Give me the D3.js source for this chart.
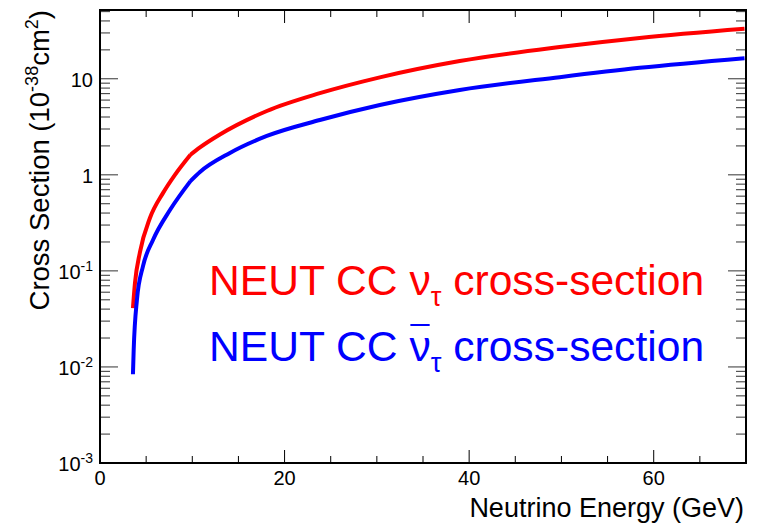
<!DOCTYPE html>
<html>
<head>
<meta charset="utf-8">
<script src="https://cdn.jsdelivr.net/npm/d3@7"></script>
<style>
  html, body { margin: 0; padding: 0; background: #fff; }
  svg { display: block; font-family: "Liberation Sans", Arial, Helvetica, sans-serif; }
</style>
</head>
<body>
<svg id="chart" width="758" height="523"></svg>
<script>
// Tau-neutrino charged-current cross sections (units of 1e-38 cm^2) vs neutrino energy (GeV)
const nuTauEnergy = [3.57, 3.79, 4.33, 5.41, 6.82, 8.12, 9.8, 10.83, 12.99, 18.08, 23.82, 30.32, 38.98, 49.81, 58.47, 69.84];
const nuTauXsec   = [0.041, 0.0747, 0.157, 0.355, 0.645, 1.0, 1.62, 1.93, 2.63, 4.62, 7.08, 10.35, 15.3, 21.4, 26.6, 33.1];

const nuTauBarEnergy = [3.57, 3.65, 4.0, 4.66, 5.74, 7.58, 9.8, 10.83, 14.08, 18.08, 23.82, 30.32, 38.98, 49.81, 58.47, 69.84];
const nuTauBarXsec   = [0.0084, 0.015, 0.0498, 0.112, 0.21, 0.43, 0.86, 1.07, 1.69, 2.54, 3.72, 5.33, 7.64, 10.4, 13.0, 16.4];

// energy where the cross-section model switches regime (slope break)
const kinkEnergy = 9.8;

const xMajorTicks = [0, 20, 40, 60];
const yDecades = [1e-3, 1e-2, 1e-1, 1, 10];
const yDecadeLabels = [["10", "-3"], ["10", "-2"], ["10", "-1"], ["1", ""], ["10", ""]];

const legendLines = [
  { pre: "NEUT CC ", nu: "\u03bd", sub: "\u03c4", post: " cross-section", bar: false, color: "#ff0000" },
  { pre: "NEUT CC ", nu: "\u03bd", sub: "\u03c4", post: " cross-section", bar: true,  color: "#0000ff" }
];

const svg = d3.select("#chart");
const L = 100, R = 746, T = 10, B = 463;

const x = d3.scaleLinear().domain([0, 70]).range([L, R]);
const y = d3.scaleLog().domain([1e-3, 52]).range([B, T]);

// x ticks: majors every 20, minors every 5 (bottom and top)
const xMinor = d3.range(0, 70.01, 5).filter(v => v % 20 !== 0);
const tickG = svg.append("g").attr("stroke", "#000").attr("stroke-width", 1);
xMajorTicks.forEach(v => {
  tickG.append("line").attr("x1", x(v)).attr("x2", x(v)).attr("y1", B).attr("y2", B - 13);
  tickG.append("line").attr("x1", x(v)).attr("x2", x(v)).attr("y1", T).attr("y2", T + 13);
});
xMinor.forEach(v => {
  tickG.append("line").attr("x1", x(v)).attr("x2", x(v)).attr("y1", B).attr("y2", B - 7);
  tickG.append("line").attr("x1", x(v)).attr("x2", x(v)).attr("y1", T).attr("y2", T + 7);
});

// y ticks: decades long, 2..9 short (left and right)
const yTickG = svg.append("g").attr("stroke", "#333").attr("stroke-width", 1);
const yMinor = [];
yDecades.forEach(d => { for (let k = 2; k <= 9; k++) { const v = d * k; if (v <= 52) yMinor.push(v); } });
yDecades.forEach(v => {
  yTickG.append("line").attr("x1", L).attr("x2", L + 18).attr("y1", y(v)).attr("y2", y(v));
  yTickG.append("line").attr("x1", R).attr("x2", R - 18).attr("y1", y(v)).attr("y2", y(v));
});
yMinor.forEach(v => {
  yTickG.append("line").attr("x1", L).attr("x2", L + 10).attr("y1", y(v)).attr("y2", y(v));
  yTickG.append("line").attr("x1", R).attr("x2", R - 10).attr("y1", y(v)).attr("y2", y(v));
});

// curves: smooth on each side of the regime change, joined with a sharp bend
const line = d3.line().x(d => x(d[0])).y(d => y(d[1])).curve(d3.curveMonotoneX);
function drawCurve(energy, xsec, color) {
  const pts = energy.map((e, i) => [e, xsec[i]]);
  const low = pts.filter(p => p[0] <= kinkEnergy);
  const high = pts.filter(p => p[0] >= kinkEnergy);
  svg.append("path").datum([low, high])
    .attr("d", segs => segs.map(s => line(s)).join(""))
    .attr("fill", "none").attr("stroke", color).attr("stroke-width", 4)
    .attr("stroke-linejoin", "round");
}
drawCurve(nuTauEnergy, nuTauXsec, "#ff0000");
drawCurve(nuTauBarEnergy, nuTauBarXsec, "#0000ff");

// frame
svg.append("rect").attr("x", L).attr("y", T).attr("width", R - L).attr("height", B - T)
  .attr("fill", "none").attr("stroke", "#000").attr("stroke-width", 2);

// x tick labels
svg.append("g").selectAll("text").data(xMajorTicks).join("text")
  .attr("x", d => x(d)).attr("y", 485).attr("text-anchor", "middle")
  .attr("font-size", 20).text(d => d);

// y tick labels
yDecades.forEach((v, i) => {
  const [base, exp] = yDecadeLabels[i];
  const t = svg.append("text").attr("x", 93).attr("y", y(v) + 8)
    .attr("text-anchor", "end").attr("font-size", 20);
  t.append("tspan").text(base);
  if (exp) t.append("tspan").attr("dy", -8).attr("font-size", 14).text(exp);
});

// axis titles
svg.append("text").attr("x", 744).attr("y", 517).attr("text-anchor", "end")
  .attr("font-size", 27).text("Neutrino Energy (GeV)");

const yt = svg.append("text").attr("transform", "translate(49,10) rotate(-90)")
  .attr("text-anchor", "end").attr("font-size", 27.5);
yt.append("tspan").text("Cross Section (10");
yt.append("tspan").attr("dy", -11).attr("font-size", 18).text("-38");
yt.append("tspan").attr("dy", 11).text("cm");
yt.append("tspan").attr("dy", -11).attr("font-size", 18).text("2");
yt.append("tspan").attr("dy", 11).text(")");

// legend text
legendLines.forEach((ln, i) => {
  const by = 295 + i * 66;
  const t = svg.append("text").attr("x", 209).attr("y", by).attr("font-size", 42.6).attr("fill", ln.color);
  t.append("tspan").text(ln.pre);
  t.append("tspan").text(ln.nu);
  t.append("tspan").attr("dy", 11).attr("font-size", 27).text(ln.sub);
  t.append("tspan").attr("dy", -11).text(ln.post);
  if (ln.bar) {
    const idx = ln.pre.length;
    const node = t.node();
    const x0 = node.getStartPositionOfChar(idx).x;
    const x1 = node.getEndPositionOfChar(idx).x;
    svg.append("line").attr("x1", x0 + 1).attr("x2", x1 - 1)
      .attr("y1", by - 36).attr("y2", by - 36)
      .attr("stroke", ln.color).attr("stroke-width", 2);
  }
});
</script>
</body>
</html>
